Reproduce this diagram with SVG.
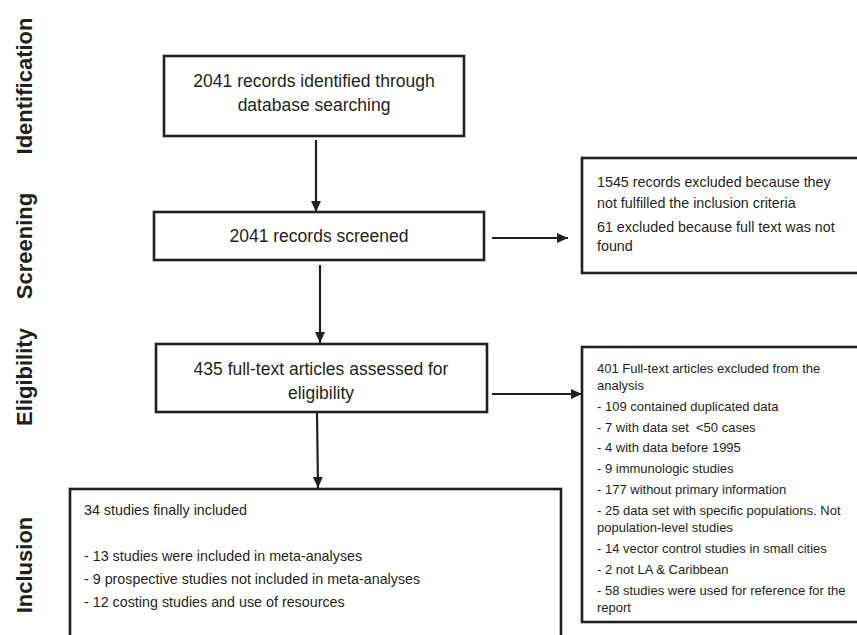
<svg xmlns="http://www.w3.org/2000/svg" width="857" height="635" viewBox="0 0 857 635">
<style>
  .box { fill: #ffffff; stroke: #231f20; stroke-width: 2.6; }
  .edge { fill: none; stroke: #231f20; stroke-width: 2.2; }
  .main { font-family: "Liberation Sans", Arial, sans-serif; font-size: 17.5px; fill: #231f20; text-anchor: middle; }
  .mid { font-family: "Liberation Sans", Arial, sans-serif; font-size: 14.3px; fill: #231f20; }
  .small { font-family: "Liberation Sans", Arial, sans-serif; font-size: 13px; fill: #231f20; }
  .stage { font-family: "Liberation Sans", Arial, sans-serif; font-size: 22px; font-weight: bold; fill: #231f20; text-anchor: middle; }
</style>
<defs>
  <marker id="arr" viewBox="0 0 10 10" refX="10" refY="5" markerWidth="5" markerHeight="4.5" orient="auto" markerUnits="strokeWidth" preserveAspectRatio="none">
    <path d="M0,0 L10,5 L0,10 z" fill="#231f20"/>
  </marker>
</defs>
<rect width="857" height="635" fill="#ffffff"/>

<g id="stages">
  <text class="stage" transform="translate(32,86) rotate(-90)">Identification</text>
  <text class="stage" transform="translate(32,246) rotate(-90)">Screening</text>
  <text class="stage" transform="translate(32,377) rotate(-90)">Eligibility</text>
  <text class="stage" transform="translate(32,565) rotate(-90)">Inclusion</text>
</g>

<g id="connectors">
  <line class="edge" x1="316" y1="140" x2="316" y2="212" marker-end="url(#arr)"/>
  <line class="edge" x1="320" y1="265" x2="320" y2="343" marker-end="url(#arr)"/>
  <line class="edge" x1="317" y1="413" x2="318" y2="488" marker-end="url(#arr)"/>
  <line class="edge" x1="492" y1="238" x2="568" y2="238" marker-end="url(#arr)"/>
  <line class="edge" x1="492" y1="394" x2="582" y2="394" marker-end="url(#arr)"/>
</g>

<g id="n-identified">
  <rect class="box" x="164" y="56" width="300" height="80"/>
  <text class="main" x="314" y="87">2041 records identified through</text>
  <text class="main" x="314" y="111">database searching</text>
</g>

<g id="n-screened">
  <rect class="box" x="154" y="212" width="330" height="48"/>
  <text class="main" x="319" y="242">2041 records screened</text>
</g>

<g id="n-excluded1">
  <rect class="box" x="582" y="158" width="290" height="115"/>
  <text class="mid" x="597" y="187">1545 records excluded because they</text>
  <text class="mid" x="597" y="208">not fulfilled the inclusion criteria</text>
  <text class="mid" x="597" y="232">61 excluded because full text was not</text>
  <text class="mid" x="597" y="251">found</text>
</g>

<g id="n-eligibility">
  <rect class="box" x="156" y="344" width="331" height="68"/>
  <text class="main" x="321" y="375">435 full-text articles assessed for</text>
  <text class="main" x="321" y="399">eligibility</text>
</g>

<g id="n-excluded2">
  <rect class="box" x="582" y="347" width="290" height="275"/>
  <text class="small" x="597" y="373">401 Full-text articles excluded from the</text>
  <text class="small" x="597" y="390">analysis</text>
  <text class="small" x="597" y="411">- 109 contained duplicated data</text>
  <text class="small" x="597" y="432" xml:space="preserve">- 7 with data set  &lt;50 cases</text>
  <text class="small" x="597" y="452">- 4 with data before 1995</text>
  <text class="small" x="597" y="473">- 9 immunologic studies</text>
  <text class="small" x="597" y="494">- 177 without primary information</text>
  <text class="small" x="597" y="515">- 25 data set with specific populations. Not</text>
  <text class="small" x="597" y="532">population-level studies</text>
  <text class="small" x="597" y="553">- 14 vector control studies in small cities</text>
  <text class="small" x="597" y="574">- 2 not LA &amp; Caribbean</text>
  <text class="small" x="597" y="595">- 58 studies were used for reference for the</text>
  <text class="small" x="597" y="612">report</text>
</g>

<g id="n-included">
  <rect class="box" x="70" y="489" width="491" height="160"/>
  <text class="mid" x="84" y="515">34 studies finally included</text>
  <text class="mid" x="84" y="561">- 13 studies were included in meta-analyses</text>
  <text class="mid" x="84" y="584">- 9 prospective studies not included in meta-analyses</text>
  <text class="mid" x="84" y="607">- 12 costing studies and use of resources</text>
</g>
</svg>
